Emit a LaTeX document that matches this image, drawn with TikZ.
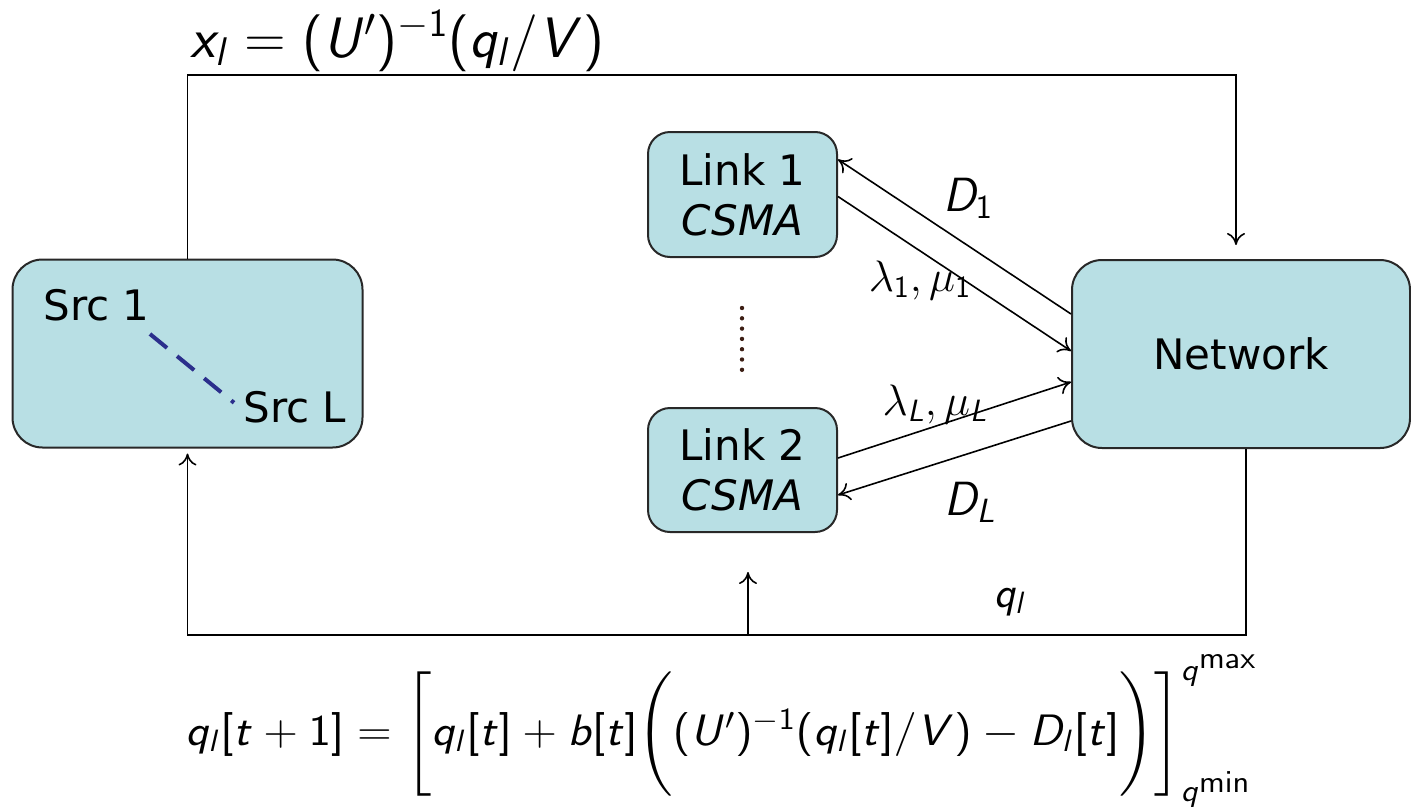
\RequirePackage{fix-cm}
\documentclass[tikz,border=0pt]{standalone}
\usepackage{amsmath}
\usepackage{graphicx}
\usepackage[no-math]{fontspec}
\setmainfont{DejaVu Sans}
\usetikzlibrary{arrows.meta}

% sans serif math, as on slides
\SetSymbolFont{operators}{normal}{OT1}{cmss}{m}{n}
\DeclareSymbolFont{sfit}{OT1}{cmss}{m}{sl}
\DeclareMathSymbol{b}{\mathalpha}{sfit}{`b}
\DeclareMathSymbol{q}{\mathalpha}{sfit}{`q}
\DeclareMathSymbol{t}{\mathalpha}{sfit}{`t}
\DeclareMathSymbol{x}{\mathalpha}{sfit}{`x}
\DeclareMathSymbol{l}{\mathalpha}{sfit}{`l}
\DeclareMathSymbol{U}{\mathalpha}{sfit}{`U}
\DeclareMathSymbol{V}{\mathalpha}{sfit}{`V}
\DeclareMathSymbol{D}{\mathalpha}{sfit}{`D}
\DeclareMathSymbol{L}{\mathalpha}{sfit}{`L}

\definecolor{boxfill}{RGB}{184,223,228}
\definecolor{boxline}{RGB}{40,40,40}
\definecolor{dashcol}{RGB}{43,47,140}
\definecolor{dotcol}{RGB}{60,30,20}

\begin{document}
\begin{tikzpicture}[x=0.5pt,y=-0.5pt,
    box/.style={draw=boxline, fill=boxfill, line width=1pt, rounded corners=15pt},
    lbl/.style={font=\fontsize{21}{25}\selectfont, inner sep=0pt},
    mth/.style={font=\fontsize{22}{26}\selectfont, inner sep=0pt},
    >={To[length=6pt,width=9pt]}]
    \useasboundingbox (0,0) rectangle (1411,809);

    % Sources
    \node[box, minimum width=175pt, minimum height=94pt] (src) at (187.5,353.5) {};
    \node[lbl, anchor=base west] (s1) at (43,320) {Src 1};
    \node[lbl, anchor=base west] (sL) at (243,422) {Src L};
    \draw[dashcol, line width=2pt, dash pattern=on 11pt off 6.5pt]
        ([yshift=-6.5pt]s1.south east) -- ([shift={(-4.5pt,2pt)}]sL.west);

    % Links
    \node[box, rounded corners=11pt, minimum width=94.5pt, minimum height=62.5pt,
          lbl, align=center] (link1) at (742.5,194.5) {Link 1\\\textit{CSMA}};
    \node[box, rounded corners=11pt, minimum width=94.5pt, minimum height=62pt,
          lbl, align=center] (link2) at (742.5,470) {Link 2\\\textit{CSMA}};
    % Dots between links
    \foreach \k in {0,...,6}
        \fill[dotcol] (742,{308+10.3*\k}) circle (1.1pt);

    % Network
    \node[box, minimum width=169pt, minimum height=94pt, lbl] (net) at (1241,354) {Network};

    % Link <-> network
    \draw[->, line width=0.8pt] ([yshift=20pt]net.west) -- ([yshift=17.5pt]link1.east);
    \draw[->, line width=0.8pt] ([yshift=-1pt]link1.east) -- ([yshift=1.5pt]net.west);
    \draw[->, line width=0.8pt] ([yshift=6pt]link2.east) -- ([yshift=-14pt]net.west);
    \draw[->, line width=0.8pt] ([yshift=-33.5pt]net.west) -- ([yshift=-12.5pt]link2.east);
    \node[mth, font=\fontsize{24}{28}\selectfont] (d1) at (968,198) {$D_1$};
    \node[mth] (lm1) at (920,280) {$\lambda_1,\mu_1$};
    \node[mth] (lmL) at (935,404) {$\lambda_L,\mu_L$};
    \node[mth, font=\fontsize{24}{28}\selectfont] (dL) at (970,502) {$D_L$};

    % Rate update loop (top)
    \coordinate (ntop) at (1236,245);
    \draw[->, line width=0.8pt] (src.north) |- (ntop |- 0,75) -- (ntop);
    \node[mth, font=\fontsize{28.5}{32}\selectfont, anchor=base west] (xform) at (190,57)
        {$x_l = (U')^{-1}(q_l/V)$};

    % Price feedback loop (bottom)
    \draw[->, line width=0.8pt] ([xshift=2.5pt]net.south) |- (src.south |- 0,635)
        -- ([yshift=-2.5pt]src.south);
    \coordinate (qtap) at (748,635);
    \coordinate (qtip) at (748,572);
    \draw[->, line width=0.8pt] (qtap) -- (qtip);
    \node[mth] (ql) at (1010,602) {$q_l$};
    \node[mth, font=\fontsize{22}{26}\selectfont, anchor=base west] (qform) at (185,745)
        {\scalebox{1.08}[1]{$q_l[t+1] = \left[\rule[-1em]{0pt}{2.6em}q_l[t] + b[t]\Bigg((U')^{-1}(q_l[t]/V) - D_l[t]\Bigg)\right]^{q^{\scriptstyle\max}}_{q^{\scriptstyle\min}}$}};
\end{tikzpicture}
\end{document}
